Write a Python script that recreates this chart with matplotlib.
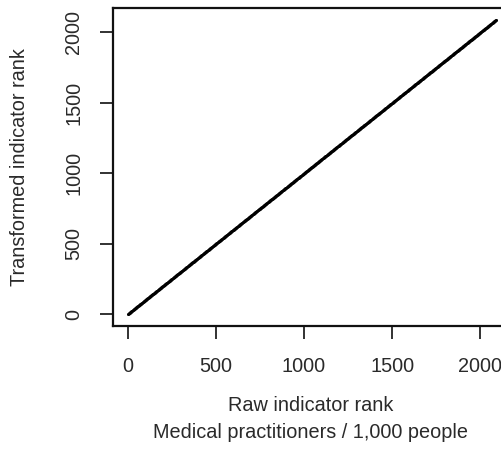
import numpy as np
import matplotlib
matplotlib.use("Agg")
import matplotlib.pyplot as plt

plt.rcParams['font.family'] = ['Liberation Sans', 'DejaVu Sans']

# Data: ranks of the indicator (raw vs transformed), identical ordering
n_units = 2090
raw_rank = np.arange(1, n_units + 1)
transformed_rank = raw_rank.copy()

x_ticks = [0, 500, 1000, 1500, 2000]
y_ticks = [0, 500, 1000, 1500, 2000]
x_label_1 = "Raw indicator rank"
x_label_2 = "Medical practitioners / 1,000 people"
y_label = "Transformed indicator rank"

W, H = 502, 465
fig = plt.figure(figsize=(W / 100, H / 100), dpi=100)
# axes box in pixels (right edge extends beyond the figure, as in the reference crop)
left, right, top, bottom = 113, 511, 8, 326
ax = fig.add_axes([left / W, (H - bottom) / H, (right - left) / W, (bottom - top) / H])

ax.plot(raw_rank, transformed_rank, linestyle='none', marker='o', markersize=1.4,
        markerfacecolor='black', markeredgecolor='black', markeredgewidth=0.2)

pad = 0.04 * (n_units - 1)
ax.set_xlim(1 - pad, n_units + pad)
ax.set_ylim(1 - pad, n_units + pad)
fs = 14.3
tc = '#2a2a2a'
ax.set_xticks(x_ticks)
ax.set_yticks(y_ticks)
ax.set_xticklabels([str(t) for t in x_ticks], fontsize=fs, color=tc)
ax.set_yticklabels([str(t) for t in y_ticks], fontsize=fs, rotation=90,
                   va='center', color=tc)
ax.tick_params(axis='both', direction='out', length=9.5, width=1.3, color='#222222')
ax.tick_params(axis='x', pad=13)
ax.tick_params(axis='y', pad=12)
for s in ax.spines.values():
    s.set_linewidth(1.6)
    s.set_color('#111111')

fig.text(311 / W, 1 - 405 / H, x_label_1, ha='center', va='center', fontsize=fs, color=tc)
fig.text(311 / W, 1 - 432 / H, x_label_2, ha='center', va='center', fontsize=fs, color=tc)
fig.text(20 / W, 1 - 167 / H, y_label, ha='center', va='center', rotation=90,
         fontsize=fs, color=tc)

fig.savefig("out.png", dpi=100)
